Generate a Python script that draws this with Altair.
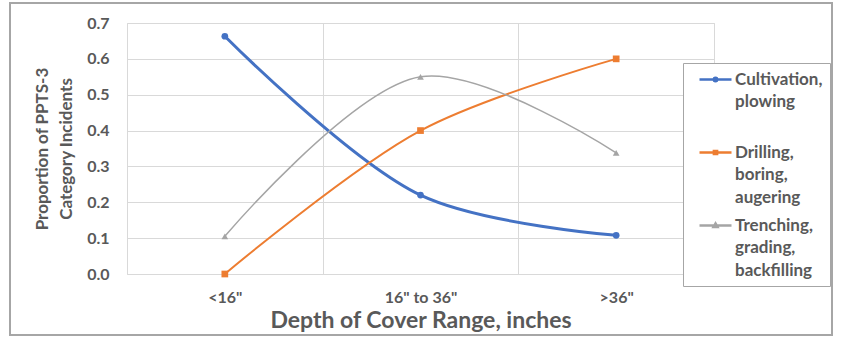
import altair as alt
import pandas as pd

categories = ['<16"', '16" to 36"', '>36"']
series_names = ["Cultivation, plowing", "Drilling, boring, augering", "Trenching, grading, backfilling"]
cultivation = [0.663, 0.22, 0.108]
drilling = [0.0, 0.40, 0.60]
trenching = [0.105, 0.55, 0.338]

colors = ["#4472C4", "#ED7D31", "#A5A5A5"]
widths = [3.0, 2.0, 1.5]
marker_shapes = ["circle", "square", "triangle-up"]
legend_paths = [
    "M-2,0L2,0M0.22,0A0.22,0.22 0 1,1 -0.22,0A0.22,0.22 0 1,1 0.22,0Z",
    "M-2,0L2,0M-0.2,-0.2L0.2,-0.2L0.2,0.2L-0.2,0.2Z",
    "M-2,0L2,0M0,-0.26L0.25,0.18L-0.25,0.18Z",
]
legend_lines = [["Cultivation,", "plowing", " "], ["Drilling,", "boring,", "augering"],
                ["Trenching,", "grading,", "backfilling"]]

rows = []
for name, vals in zip(series_names, [cultivation, drilling, trenching]):
    for c, v in zip(categories, vals):
        rows.append({"range": c, "series": name, "value": v})
df = pd.DataFrame(rows)

FONT = "Lato"
TXT = "#595959"

x_enc = alt.X("range:N", sort=categories, title="Depth of Cover Range, inches",
              scale=alt.Scale(paddingInner=0, paddingOuter=0),
              axis=alt.Axis(labelAngle=0, tickBand="extent", ticks=False, domain=False,
                            grid=True, gridColor="#d9d9d9", labelFontSize=16, labelFont=FONT,
                            labelFontWeight="bold", labelColor=TXT, labelPadding=15,
                            titleFontSize=23, titleFont=FONT, titleFontWeight="bold",
                            titleColor=TXT, titlePadding=4))
y_enc = alt.Y("value:Q", title=["Proportion of PPTS-3", "Category Incidents"],
              scale=alt.Scale(domain=[0, 0.7], nice=False, zero=True),
              axis=alt.Axis(values=[0, 0.1, 0.2, 0.3, 0.4, 0.5, 0.6, 0.7], format=".1f",
                            tickCount=20, labelOverlap=False,
                            ticks=False, domain=False, gridColor="#d9d9d9",
                            labelFontSize=16, labelFont=FONT, labelFontWeight="bold",
                            labelColor=TXT, labelPadding=18, titleFontSize=17,
                            titleFont=FONT, titleFontWeight="bold", titleColor=TXT,
                            titlePadding=11, titleLineHeight=24))

label_parts = []
for name, lines_ in zip(series_names, legend_lines):
    arr = "[" + ", ".join(f"'{s}'" for s in lines_) + "]"
    label_parts.append((name, arr))
label_expr = label_parts[-1][1]
for name, arr in reversed(label_parts[:-1]):
    label_expr = f"datum.label == '{name}' ? {arr} : ({label_expr})"

legend = alt.Legend(
    title=None, orient="none", legendX=556, legendY=40,
    symbolSize=256, symbolStrokeWidth=2.5, symbolOpacity=1, symbolOffset=16,
    labelFont=FONT, labelFontSize=17, labelFontWeight="bold", labelColor=TXT,
    labelExpr=label_expr, labelLimit=200, labelOffset=10,
    fillColor="white", strokeColor="#a6a6a6", padding=7, rowPadding=10,
)

layers = []
for name, col, w in zip(series_names, colors, widths):
    layers.append(
        alt.Chart(df).transform_filter(alt.datum.series == name)
        .mark_line(interpolate="catmull-rom", color=col, strokeWidth=w)
        .encode(x=x_enc, y=y_enc)
    )
for name, shp, col in zip(series_names, marker_shapes, colors):
    layers.append(
        alt.Chart(df).transform_filter(alt.datum.series == name)
        .mark_point(filled=True, opacity=1, size=45, shape=shp, color=col)
        .encode(x=x_enc, y=y_enc)
    )

legend_layer = alt.Chart(df).mark_point(filled=False, size=1, strokeWidth=0.5).encode(
    x=x_enc, y=y_enc,
    color=alt.Color("series:N", scale=alt.Scale(domain=series_names, range=colors), legend=legend),
    shape=alt.Shape("series:N", scale=alt.Scale(domain=series_names, range=legend_paths), legend=legend),
)

frame = alt.Chart(pd.DataFrame({"a": [0]})).mark_rect(fill=None, stroke="#a6a6a6", strokeWidth=2).encode(
    x=alt.value(-117), x2=alt.value(705), y=alt.value(-20), y2=alt.value(312)
)

chart = alt.layer(*layers, legend_layer, frame).properties(
    width=587, height=251,
    autosize=alt.AutoSizeParams(type="none"),
    padding={"left": 127, "top": 23, "right": 129, "bottom": 72},
    background="white",
).configure_view(stroke="#d9d9d9").configure(
    style={"guide-label": {"lineHeight": 22.5}}
)

chart.save("out.html", embed_options={"renderer": "svg", "actions": False})
